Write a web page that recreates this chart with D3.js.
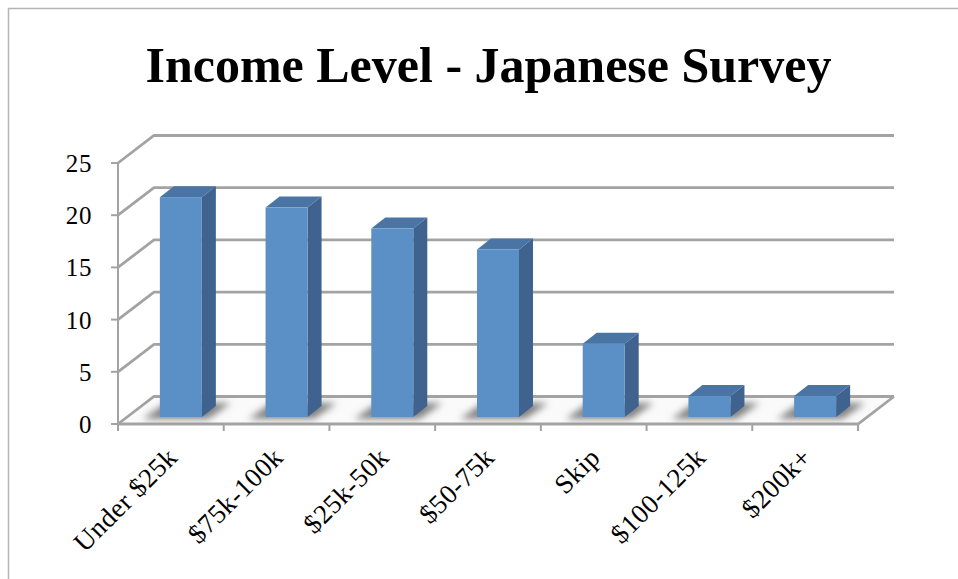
<!DOCTYPE html>
<html><head><meta charset="utf-8">
<style>html,body{margin:0;padding:0;background:#fff}svg{display:block}text{font-family:"Liberation Serif",serif;fill:#000}</style>
<script src="https://cdn.jsdelivr.net/npm/d3@7"></script></head>
<body><svg id="c" width="958" height="579"></svg>
<script>
const categories = ["Under $25k","$75k-100k","$25k-50k","$50-75k","Skip","$100-125k","$200k+"];
const values = [21,20,18,16,7,2,2];
const yTicks = [0,5,10,15,20,25];
const titleText = "Income Level - Japanese Survey";

const svg = d3.select("#c");
const W = 958, H = 579;
const x = d3.scaleBand().domain(categories).range([118,858]);
const y = d3.scaleLinear().domain([0,25]).range([424,163]);
const depth = {x:36, y:-27.5};
const barInset = {x:9, y:-7};
const barD = {x:14, y:-11};
const barW = 42;
const grid = "#a3a3a3";

const defs = svg.append("defs");
defs.append("filter").attr("id","blur").attr("x","-40%").attr("y","-80%").attr("width","180%").attr("height","260%")
  .append("feGaussianBlur").attr("stdDeviation",3.6);
const floorPts = [[x.range()[0],y(0)],[x.range()[1],y(0)],[x.range()[1]+depth.x,y(0)+depth.y],[x.range()[0]+depth.x,y(0)+depth.y]];
defs.append("clipPath").attr("id","floor").append("polygon").attr("points",floorPts.join(" "));

svg.append("path").attr("d",`M8.5,${H} V8.5 H${W}`).attr("fill","none").attr("stroke","#b5b5b5").attr("stroke-width",1.5);

svg.append("text").attr("x",488.5).attr("y",82).attr("text-anchor","middle")
  .attr("font-size",50).attr("font-weight",700).text(titleText);

svg.append("polygon").attr("points",floorPts.join(" ")).attr("fill","#fafafa");

const gridG = svg.append("g").attr("fill","none").attr("stroke",grid).attr("stroke-width",2.8);
yTicks.forEach(t=>{
  const p = d3.path();
  p.moveTo(x.range()[0],y(t)); p.lineTo(x.range()[0]+depth.x,y(t)+depth.y); p.lineTo(x.range()[1]+depth.x,y(t)+depth.y);
  gridG.append("path").attr("d",p.toString());
});
const fr = d3.path();
fr.moveTo(x.range()[1]+depth.x,y(0)+depth.y); fr.lineTo(x.range()[1],y(0)); fr.lineTo(x.range()[0],y(0));
gridG.append("path").attr("d",fr.toString());

const axG = svg.append("g").attr("stroke",grid).attr("stroke-width",2);
axG.append("line").attr("x1",x.range()[0]).attr("x2",x.range()[0]).attr("y1",y(25)).attr("y2",y(0));
yTicks.forEach(t=>axG.append("line").attr("x1",x.range()[0]-7).attr("x2",x.range()[0]).attr("y1",y(t)).attr("y2",y(t)));
categories.concat([null]).forEach(c=>{
  const px = c===null ? x.range()[1] : x(c);
  axG.append("line").attr("x1",px).attr("x2",px).attr("y1",y(0)).attr("y2",y(0)+7);
});

svg.append("g").selectAll("text").data(yTicks).join("text")
  .attr("x",92).attr("y",d=>y(d)+9).attr("text-anchor","end").attr("font-size",25).attr("letter-spacing",0.6).text(d=>d);

const fx = c=>x(c)+x.bandwidth()/2-barW/2+barInset.x+1;
const by = y(0)+barInset.y;
function barH(v){ return (y(0)-y(v))*(10.47/10.44); }

svg.append("g").attr("clip-path","url(#floor)").selectAll("polygon").data(categories).join("polygon")
  .attr("filter","url(#blur)").attr("fill","#808080")
  .attr("points",c=>{
    const l = fx(c), b = by;
    return [[l-17,b+2],[l+barW+6,b+2],[l+barW+29,b-14],[l+6,b-14]].join(" ");
  });

const bars = svg.append("g").selectAll("g").data(categories).join("g");
bars.append("polygon").attr("fill","#4a74a3").attr("points",(c,i)=>{
  const l=fx(c), t=by-barH(values[i]);
  return [[l,t],[l+barW,t],[l+barW+barD.x,t+barD.y],[l+barD.x,t+barD.y]].join(" ");
});
bars.append("polygon").attr("fill","#3f638e").attr("points",(c,i)=>{
  const r=fx(c)+barW, t=by-barH(values[i]);
  return [[r,t],[r+barD.x,t+barD.y],[r+barD.x,by+barD.y],[r,by]].join(" ");
});
bars.append("rect").attr("fill","#5b90c6").attr("x",c=>fx(c)).attr("width",barW)
  .attr("y",(c,i)=>by-barH(values[i])).attr("height",(c,i)=>barH(values[i]));

svg.append("g").selectAll("text").data(categories).join("text")
  .attr("text-anchor","end").attr("font-size",27).attr("letter-spacing",0.5)
  .attr("transform",c=>`translate(${x(c)+x.bandwidth()/2+8},${y(0)+35}) rotate(-45)`).text(c=>c);
</script></body></html>
